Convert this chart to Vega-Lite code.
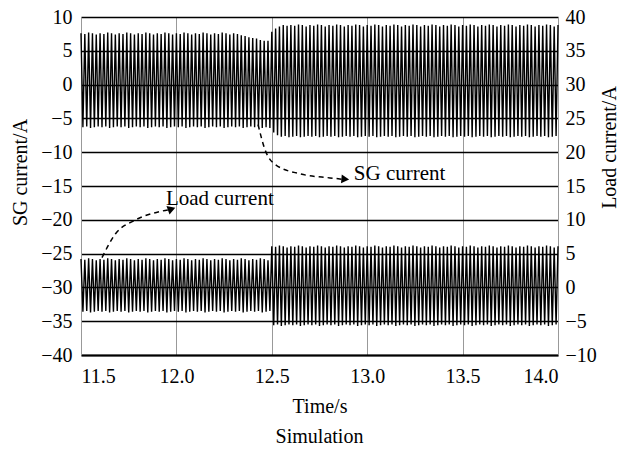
{
  "$schema": "https://vega.github.io/schema/vega-lite/v6.json",
  "width": 477,
  "height": 338,
  "autosize": "none",
  "padding": {"left": 81, "top": 17, "right": 62, "bottom": 98},
  "background": "white",
  "config": {
    "font": "Liberation Serif",
    "view": {"stroke": null},
    "axis": {
      "labelFont": "Liberation Serif",
      "titleFont": "Liberation Serif",
      "labelFontSize": 20,
      "titleFontSize": 20,
      "labelColor": "#000",
      "titleColor": "#000",
      "titleFontWeight": "normal",
      "ticks": false,
      "labelOverlap": false
    }
  },
  "title": {"text": "Simulation", "orient": "bottom", "font": "Liberation Serif", "fontSize": 20, "fontWeight": "normal", "color": "#000", "offset": 11},
  "datasets": {
    "wave": [
      {"t":11.50,"s":7.6,"l":4.2},{"t":11.51,"s":-6.3,"l":-3.6},{"t":11.52,"s":7.5,"l":4.1},{"t":11.53,"s":-6.2,"l":-3.5},{"t":11.54,"s":7.7,"l":4.3},{"t":11.55,"s":-6.4,"l":-3.7},{"t":11.56,"s":7.6,"l":4.2},{"t":11.57,"s":-6.3,"l":-3.6},{"t":11.58,"s":7.4,"l":4.0},{"t":11.59,"s":-6.2,"l":-3.5},
      {"t":11.60,"s":7.6,"l":4.2},{"t":11.61,"s":-6.3,"l":-3.6},{"t":11.62,"s":7.5,"l":4.1},{"t":11.63,"s":-6.2,"l":-3.5},{"t":11.64,"s":7.7,"l":4.3},{"t":11.65,"s":-6.4,"l":-3.7},{"t":11.66,"s":7.6,"l":4.2},{"t":11.67,"s":-6.3,"l":-3.6},{"t":11.68,"s":7.4,"l":4.0},{"t":11.69,"s":-6.2,"l":-3.5},
      {"t":11.70,"s":7.6,"l":4.2},{"t":11.71,"s":-6.3,"l":-3.6},{"t":11.72,"s":7.5,"l":4.1},{"t":11.73,"s":-6.2,"l":-3.5},{"t":11.74,"s":7.7,"l":4.3},{"t":11.75,"s":-6.4,"l":-3.7},{"t":11.76,"s":7.6,"l":4.2},{"t":11.77,"s":-6.3,"l":-3.6},{"t":11.78,"s":7.4,"l":4.0},{"t":11.79,"s":-6.2,"l":-3.5},
      {"t":11.80,"s":7.6,"l":4.2},{"t":11.81,"s":-6.3,"l":-3.6},{"t":11.82,"s":7.5,"l":4.1},{"t":11.83,"s":-6.2,"l":-3.5},{"t":11.84,"s":7.7,"l":4.3},{"t":11.85,"s":-6.4,"l":-3.7},{"t":11.86,"s":7.6,"l":4.2},{"t":11.87,"s":-6.3,"l":-3.6},{"t":11.88,"s":7.4,"l":4.0},{"t":11.89,"s":-6.2,"l":-3.5},
      {"t":11.90,"s":7.6,"l":4.2},{"t":11.91,"s":-6.3,"l":-3.6},{"t":11.92,"s":7.5,"l":4.1},{"t":11.93,"s":-6.2,"l":-3.5},{"t":11.94,"s":7.7,"l":4.3},{"t":11.95,"s":-6.4,"l":-3.7},{"t":11.96,"s":7.6,"l":4.2},{"t":11.97,"s":-6.3,"l":-3.6},{"t":11.98,"s":7.4,"l":4.0},{"t":11.99,"s":-6.2,"l":-3.5},
      {"t":12.00,"s":7.6,"l":4.2},{"t":12.01,"s":-6.3,"l":-3.6},{"t":12.02,"s":7.5,"l":4.1},{"t":12.03,"s":-6.2,"l":-3.5},{"t":12.04,"s":7.7,"l":4.3},{"t":12.05,"s":-6.4,"l":-3.7},{"t":12.06,"s":7.6,"l":4.2},{"t":12.07,"s":-6.3,"l":-3.6},{"t":12.08,"s":7.4,"l":4.0},{"t":12.09,"s":-6.2,"l":-3.5},
      {"t":12.10,"s":7.6,"l":4.2},{"t":12.11,"s":-6.3,"l":-3.6},{"t":12.12,"s":7.5,"l":4.1},{"t":12.13,"s":-6.2,"l":-3.5},{"t":12.14,"s":7.7,"l":4.3},{"t":12.15,"s":-6.4,"l":-3.7},{"t":12.16,"s":7.6,"l":4.2},{"t":12.17,"s":-6.3,"l":-3.6},{"t":12.18,"s":7.4,"l":4.0},{"t":12.19,"s":-6.2,"l":-3.5},
      {"t":12.20,"s":7.6,"l":4.2},{"t":12.21,"s":-6.3,"l":-3.6},{"t":12.22,"s":7.5,"l":4.1},{"t":12.23,"s":-6.2,"l":-3.5},{"t":12.24,"s":7.7,"l":4.3},{"t":12.25,"s":-6.4,"l":-3.7},{"t":12.26,"s":7.6,"l":4.2},{"t":12.27,"s":-6.3,"l":-3.6},{"t":12.28,"s":7.4,"l":4.0},{"t":12.29,"s":-6.2,"l":-3.5},
      {"t":12.30,"s":7.6,"l":4.2},{"t":12.31,"s":-6.3,"l":-3.6},{"t":12.32,"s":7.5,"l":4.1},{"t":12.33,"s":-6.2,"l":-3.5},{"t":12.34,"s":7.3,"l":4.3},{"t":12.35,"s":-6.4,"l":-3.7},{"t":12.36,"s":7.2,"l":4.2},{"t":12.37,"s":-6.3,"l":-3.6},{"t":12.38,"s":7.0,"l":4.0},{"t":12.39,"s":-6.2,"l":-3.5},
      {"t":12.40,"s":6.9,"l":4.2},{"t":12.41,"s":-6.3,"l":-3.6},{"t":12.42,"s":6.8,"l":4.1},{"t":12.43,"s":-6.2,"l":-3.5},{"t":12.44,"s":6.6,"l":4.3},{"t":12.45,"s":-6.4,"l":-3.7},{"t":12.46,"s":6.5,"l":4.2},{"t":12.47,"s":-6.3,"l":-3.6},{"t":12.48,"s":6.5,"l":4.0},{"t":12.49,"s":-6.4,"l":-3.5},
      {"t":12.50,"s":7.8,"l":6.1},{"t":12.51,"s":-7.1,"l":-5.6},{"t":12.52,"s":8.3,"l":6.0},{"t":12.53,"s":-7.5,"l":-5.5},{"t":12.54,"s":8.6,"l":6.2},{"t":12.55,"s":-7.7,"l":-5.7},{"t":12.56,"s":8.8,"l":6.1},{"t":12.57,"s":-7.6,"l":-5.6},{"t":12.58,"s":8.7,"l":5.9},{"t":12.59,"s":-7.8,"l":-5.5},
      {"t":12.60,"s":8.8,"l":6.1},{"t":12.61,"s":-7.7,"l":-5.6},{"t":12.62,"s":8.7,"l":6.0},{"t":12.63,"s":-7.6,"l":-5.5},{"t":12.64,"s":8.9,"l":6.2},{"t":12.65,"s":-7.8,"l":-5.7},{"t":12.66,"s":8.8,"l":6.1},{"t":12.67,"s":-7.7,"l":-5.6},{"t":12.68,"s":8.6,"l":5.9},{"t":12.69,"s":-7.6,"l":-5.5},
      {"t":12.70,"s":8.8,"l":6.1},{"t":12.71,"s":-7.7,"l":-5.6},{"t":12.72,"s":8.7,"l":6.0},{"t":12.73,"s":-7.6,"l":-5.5},{"t":12.74,"s":8.9,"l":6.2},{"t":12.75,"s":-7.8,"l":-5.7},{"t":12.76,"s":8.8,"l":6.1},{"t":12.77,"s":-7.7,"l":-5.6},{"t":12.78,"s":8.6,"l":5.9},{"t":12.79,"s":-7.6,"l":-5.5},
      {"t":12.80,"s":8.8,"l":6.1},{"t":12.81,"s":-7.7,"l":-5.6},{"t":12.82,"s":8.7,"l":6.0},{"t":12.83,"s":-7.6,"l":-5.5},{"t":12.84,"s":8.9,"l":6.2},{"t":12.85,"s":-7.8,"l":-5.7},{"t":12.86,"s":8.8,"l":6.1},{"t":12.87,"s":-7.7,"l":-5.6},{"t":12.88,"s":8.6,"l":5.9},{"t":12.89,"s":-7.6,"l":-5.5},
      {"t":12.90,"s":8.8,"l":6.1},{"t":12.91,"s":-7.7,"l":-5.6},{"t":12.92,"s":8.7,"l":6.0},{"t":12.93,"s":-7.6,"l":-5.5},{"t":12.94,"s":8.9,"l":6.2},{"t":12.95,"s":-7.8,"l":-5.7},{"t":12.96,"s":8.8,"l":6.1},{"t":12.97,"s":-7.7,"l":-5.6},{"t":12.98,"s":8.6,"l":5.9},{"t":12.99,"s":-7.6,"l":-5.5},
      {"t":13.00,"s":8.8,"l":6.1},{"t":13.01,"s":-7.7,"l":-5.6},{"t":13.02,"s":8.7,"l":6.0},{"t":13.03,"s":-7.6,"l":-5.5},{"t":13.04,"s":8.9,"l":6.2},{"t":13.05,"s":-7.8,"l":-5.7},{"t":13.06,"s":8.8,"l":6.1},{"t":13.07,"s":-7.7,"l":-5.6},{"t":13.08,"s":8.6,"l":5.9},{"t":13.09,"s":-7.6,"l":-5.5},
      {"t":13.10,"s":8.8,"l":6.1},{"t":13.11,"s":-7.7,"l":-5.6},{"t":13.12,"s":8.7,"l":6.0},{"t":13.13,"s":-7.6,"l":-5.5},{"t":13.14,"s":8.9,"l":6.2},{"t":13.15,"s":-7.8,"l":-5.7},{"t":13.16,"s":8.8,"l":6.1},{"t":13.17,"s":-7.7,"l":-5.6},{"t":13.18,"s":8.6,"l":5.9},{"t":13.19,"s":-7.6,"l":-5.5},
      {"t":13.20,"s":8.8,"l":6.1},{"t":13.21,"s":-7.7,"l":-5.6},{"t":13.22,"s":8.7,"l":6.0},{"t":13.23,"s":-7.6,"l":-5.5},{"t":13.24,"s":8.9,"l":6.2},{"t":13.25,"s":-7.8,"l":-5.7},{"t":13.26,"s":8.8,"l":6.1},{"t":13.27,"s":-7.7,"l":-5.6},{"t":13.28,"s":8.6,"l":5.9},{"t":13.29,"s":-7.6,"l":-5.5},
      {"t":13.30,"s":8.8,"l":6.1},{"t":13.31,"s":-7.7,"l":-5.6},{"t":13.32,"s":8.7,"l":6.0},{"t":13.33,"s":-7.6,"l":-5.5},{"t":13.34,"s":8.9,"l":6.2},{"t":13.35,"s":-7.8,"l":-5.7},{"t":13.36,"s":8.8,"l":6.1},{"t":13.37,"s":-7.7,"l":-5.6},{"t":13.38,"s":8.6,"l":5.9},{"t":13.39,"s":-7.6,"l":-5.5},
      {"t":13.40,"s":8.8,"l":6.1},{"t":13.41,"s":-7.7,"l":-5.6},{"t":13.42,"s":8.7,"l":6.0},{"t":13.43,"s":-7.6,"l":-5.5},{"t":13.44,"s":8.9,"l":6.2},{"t":13.45,"s":-7.8,"l":-5.7},{"t":13.46,"s":8.8,"l":6.1},{"t":13.47,"s":-7.7,"l":-5.6},{"t":13.48,"s":8.6,"l":5.9},{"t":13.49,"s":-7.6,"l":-5.5},
      {"t":13.50,"s":8.8,"l":6.1},{"t":13.51,"s":-7.7,"l":-5.6},{"t":13.52,"s":8.7,"l":6.0},{"t":13.53,"s":-7.6,"l":-5.5},{"t":13.54,"s":8.9,"l":6.2},{"t":13.55,"s":-7.8,"l":-5.7},{"t":13.56,"s":8.8,"l":6.1},{"t":13.57,"s":-7.7,"l":-5.6},{"t":13.58,"s":8.6,"l":5.9},{"t":13.59,"s":-7.6,"l":-5.5},
      {"t":13.60,"s":8.8,"l":6.1},{"t":13.61,"s":-7.7,"l":-5.6},{"t":13.62,"s":8.7,"l":6.0},{"t":13.63,"s":-7.6,"l":-5.5},{"t":13.64,"s":8.9,"l":6.2},{"t":13.65,"s":-7.8,"l":-5.7},{"t":13.66,"s":8.8,"l":6.1},{"t":13.67,"s":-7.7,"l":-5.6},{"t":13.68,"s":8.6,"l":5.9},{"t":13.69,"s":-7.6,"l":-5.5},
      {"t":13.70,"s":8.8,"l":6.1},{"t":13.71,"s":-7.7,"l":-5.6},{"t":13.72,"s":8.7,"l":6.0},{"t":13.73,"s":-7.6,"l":-5.5},{"t":13.74,"s":8.9,"l":6.2},{"t":13.75,"s":-7.8,"l":-5.7},{"t":13.76,"s":8.8,"l":6.1},{"t":13.77,"s":-7.7,"l":-5.6},{"t":13.78,"s":8.6,"l":5.9},{"t":13.79,"s":-7.6,"l":-5.5},
      {"t":13.80,"s":8.8,"l":6.1},{"t":13.81,"s":-7.7,"l":-5.6},{"t":13.82,"s":8.7,"l":6.0},{"t":13.83,"s":-7.6,"l":-5.5},{"t":13.84,"s":8.9,"l":6.2},{"t":13.85,"s":-7.8,"l":-5.7},{"t":13.86,"s":8.8,"l":6.1},{"t":13.87,"s":-7.7,"l":-5.6},{"t":13.88,"s":8.6,"l":5.9},{"t":13.89,"s":-7.6,"l":-5.5},
      {"t":13.90,"s":8.8,"l":6.1},{"t":13.91,"s":-7.7,"l":-5.6},{"t":13.92,"s":8.7,"l":6.0},{"t":13.93,"s":-7.6,"l":-5.5},{"t":13.94,"s":8.9,"l":6.2},{"t":13.95,"s":-7.8,"l":-5.7},{"t":13.96,"s":8.8,"l":6.1},{"t":13.97,"s":-7.7,"l":-5.6},{"t":13.98,"s":8.6,"l":5.9},{"t":13.99,"s":-7.6,"l":-5.5},
      {"t":14.00,"s":8.8,"l":6.1}
    ],
    "arrowLoad": [
      {"o":1,"t":11.61,"s":-25.6},{"o":2,"t":11.68,"s":-22.1},{"o":3,"t":11.78,"s":-20.1},{"o":4,"t":11.91,"s":-18.8},{"o":5,"t":11.965,"s":-18.5}
    ],
    "arrowSG": [
      {"o":1,"t":12.428,"s":-5.9},{"o":2,"t":12.464,"s":-9.6},{"o":3,"t":12.517,"s":-11.8},{"o":4,"t":12.648,"s":-13.2},{"o":5,"t":12.805,"s":-13.8},{"o":6,"t":12.87,"s":-14.0}
    ],
    "headLoad": [{"t":11.975,"s":-18.4}],
    "headSG": [{"t":12.885,"s":-14.0}],
    "labels": [
      {"t":11.945,"s":-16.9,"txt":"Load current"},
      {"t":12.93,"s":-13.2,"txt":"SG current"}
    ]
  },
  "encoding": {
    "x": {"field": "t", "type": "quantitative", "scale": {"domain": [11.5, 14], "nice": false},
      "axis": {"title": "Time/s", "values": [11.5, 12, 12.5, 13, 13.5, 14], "format": ".1f", "grid": true, "gridColor": "#999", "gridWidth": 1, "domainColor": "#000", "domainWidth": 2, "labelPadding": 11, "titlePadding": 10}}
  },
  "layer": [
    {
      "encoding": {
        "y": {"field": "s", "type": "quantitative", "scale": {"domain": [-40, 10], "nice": false},
          "axis": {"title": "SG current/A", "values": [-40, -35, -30, -25, -20, -15, -10, -5, 0, 5, 10], "grid": true, "gridColor": "#000", "gridWidth": 1.6, "domainColor": "#999", "domainWidth": 1, "labelPadding": 9, "titleX": -61, "titleY": 155, "titleAngle": 270, "titleAlign": "center", "titleBaseline": "middle"}}
      },
      "layer": [
        {
          "data": {"name": "wave"},
          "mark": {"type": "line", "color": "#000", "strokeWidth": 1.4}
        },
        {
          "data": {"name": "arrowLoad"},
          "mark": {"type": "line", "color": "#000", "strokeWidth": 1.5, "strokeDash": [5, 4], "interpolate": "monotone"},
          "encoding": {"order": {"field": "o"}}
        },
        {
          "data": {"name": "arrowSG"},
          "mark": {"type": "line", "color": "#000", "strokeWidth": 1.5, "strokeDash": [5, 4], "interpolate": "monotone"},
          "encoding": {"order": {"field": "o"}}
        },
        {
          "data": {"name": "headLoad"},
          "mark": {"type": "point", "shape": "triangle-right", "filled": true, "color": "#000", "size": 80, "angle": 340, "opacity": 1}
        },
        {
          "data": {"name": "headSG"},
          "mark": {"type": "point", "shape": "triangle-right", "filled": true, "color": "#000", "size": 80, "angle": 5, "opacity": 1}
        },
        {
          "data": {"name": "labels"},
          "mark": {"type": "text", "align": "left", "baseline": "middle", "font": "Liberation Serif", "fontSize": 21, "color": "#000"},
          "encoding": {"text": {"field": "txt"}}
        }
      ]
    },
    {
      "data": {"name": "wave"},
      "mark": {"type": "line", "color": "#000", "strokeWidth": 1.4},
      "encoding": {
        "y": {"field": "l", "type": "quantitative", "scale": {"domain": [-10, 40], "nice": false},
          "axis": {"title": "Load current/A", "orient": "right", "values": [-10, -5, 0, 5, 10, 15, 20, 25, 30, 35, 40], "grid": false, "domainColor": "#999", "domainWidth": 1, "labelPadding": 7, "titleX": 51, "titleY": 130, "titleAngle": 270, "titleAlign": "center", "titleBaseline": "middle"}}
      }
    }
  ],
  "resolve": {"scale": {"y": "independent"}, "axis": {"y": "independent"}}
}
